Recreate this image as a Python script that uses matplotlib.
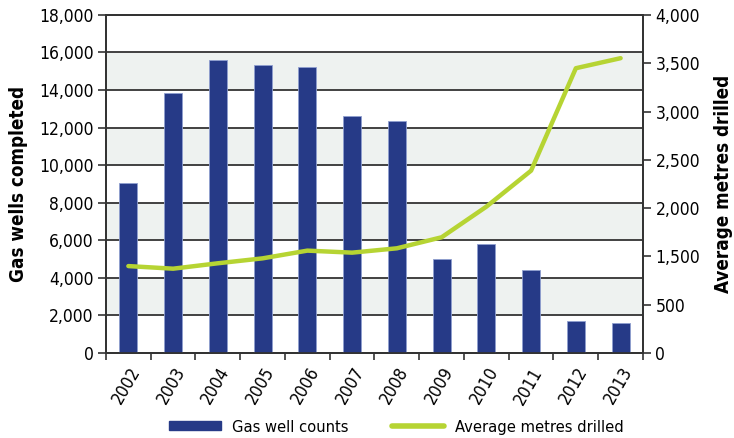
import numpy as np
import matplotlib
matplotlib.use("Agg")
import matplotlib.pyplot as plt
from matplotlib.patches import Patch
from matplotlib.lines import Line2D

plt.rcParams['font.family'] = ['DejaVu Sans']
plt.rcParams['font.stretch'] = 'condensed'

# data
years = ["2002", "2003", "2004", "2005", "2006", "2007", "2008", "2009", "2010", "2011", "2012", "2013"]
well_counts = [9050, 13850, 15600, 15330, 15210, 12600, 12330, 4990, 5800, 4440, 1720, 1580]
# line values on the right axis' linear scale (0-3500, 7 equal steps)
metres = [900, 873, 929, 980, 1060, 1039, 1084, 1198, 1515, 1888, 2948, 3052]
right_labels = ["0", "500", "1,500", "2,000", "2,500", "3,000", "3,500", "4,000"]

bar_col = "#263a87"
line_col = "#b6d433"
band_col = "#eef2f0"
grid_col = "#333333"

fig = plt.figure(figsize=(7.34, 4.38), dpi=100)
ax = fig.add_axes([0.1444, 0.194, 0.7316, 0.772])
x = np.arange(len(years))

# shaded bands
for lo in range(2000, 18000, 4000):
    ax.axhspan(lo, lo + 2000, color=band_col, zorder=0, lw=0)

ax.bar(x, well_counts, width=0.4, color=bar_col, edgecolor="#8f9fd0", linewidth=0.6, zorder=3)
ax.set_ylim(0, 18000)
ax.set_xlim(-0.5, len(years) - 0.5)
ax.set_yticks(np.arange(0, 18001, 2000))
ax.set_yticklabels([f"{v:,}" for v in range(0, 18001, 2000)], fontsize=12.5)
ax.yaxis.grid(True, color=grid_col, lw=1.3, zorder=1)
ax.set_axisbelow(True)

# x ticks at category boundaries, labels at centres
ax.set_xticks(np.arange(-0.5, len(years), 1.0))
ax.set_xticklabels([])
ax.set_xticks(x, minor=True)
ax.set_xticklabels(years, minor=True, rotation=60, ha="right", rotation_mode="anchor", fontsize=12.5)
ax.tick_params(axis="x", which="minor", length=0, pad=8)
ax.tick_params(axis="x", which="major", length=5, width=1.2, color=grid_col)
ax.tick_params(axis="y", length=6, width=1.2, color=grid_col, pad=3)
for s in ax.spines.values():
    s.set_color(grid_col)
    s.set_linewidth(1.3)

ax.set_ylabel("Gas wells completed", fontsize=13.5, fontweight="bold", labelpad=8)

ax2 = ax.twinx()
ax2.plot(x, metres, color=line_col, lw=3.2, solid_capstyle="round", zorder=4)
ax2.set_ylim(0, 3500)
ax2.set_yticks(np.arange(0, 3501, 500))
ax2.set_yticklabels(right_labels, fontsize=12.5)
ax2.tick_params(axis="y", length=6, width=1.2, color=grid_col, pad=3)
for s in ax2.spines.values():
    s.set_color(grid_col)
    s.set_linewidth(1.3)
ax2.set_ylabel("Average metres drilled", fontsize=13.5, fontweight="bold", labelpad=10)

handles = [Patch(facecolor=bar_col, edgecolor=bar_col),
           Line2D([0], [0], color=line_col, lw=4, solid_capstyle="round")]
fig.legend(handles, ["Gas well counts", "Average metres drilled"], loc="center",
           bbox_to_anchor=(0.54, 0.025), ncol=2, frameon=False, fontsize=11.8,
           handlelength=3.2, handleheight=0.5, columnspacing=2.6, handletextpad=0.7)

fig.savefig("out.png", dpi=100)
